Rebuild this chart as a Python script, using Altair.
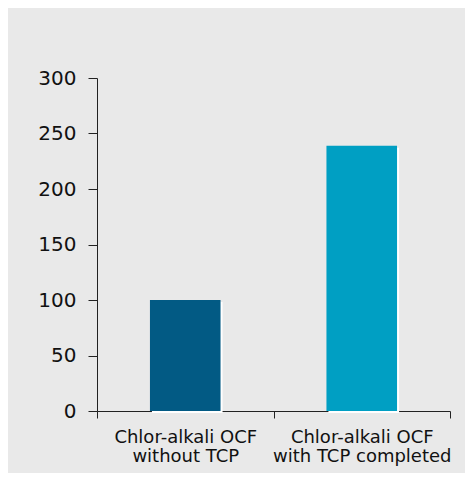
import altair as alt
import pandas as pd

categories = ["Chlor-alkali OCF|without TCP", "Chlor-alkali OCF|with TCP completed"]
values = [100, 239]
colors = ["#025a84", "#009fc3"]
y_ticks = [0, 50, 100, 150, 200, 250, 300]

df = pd.DataFrame({"cat": categories, "value": values, "color": colors})

x_enc = alt.X(
    "cat:N",
    sort=categories,
    title=None,
    scale=alt.Scale(paddingInner=0, paddingOuter=0),
    axis=alt.Axis(
        labelAngle=0,
        labelExpr="split(datum.label, '|')",
        labelLineHeight=19,
        labelFont="DejaVu Sans",
        labelFontSize=18,
        labelColor="#111111",
        labelPadding=10,
        tickBand="extent",
        tickSize=7,
        tickColor="#222222",
        domainColor="#222222",
        labelBound=False,
    ),
)
y_enc = alt.Y(
    "value:Q",
    title=None,
    scale=alt.Scale(domain=[0, 300], nice=False),
    axis=alt.Axis(
        values=y_ticks,
        grid=False,
        tickSize=9,
        tickColor="#222222",
        domainColor="#222222",
        labelFont="DejaVu Sans",
        labelFontSize=20,
        labelColor="#111111",
        labelPadding=12,
    ),
)

shadow = alt.Chart(df).mark_bar(
    color="#ffffff", width=alt.RelativeBandSize(0.4), xOffset=2, yOffset=2
).encode(x=x_enc, y=y_enc)

bars = alt.Chart(df).mark_bar(width=alt.RelativeBandSize(0.4)).encode(
    x=x_enc,
    y=y_enc,
    color=alt.Color("color:N", scale=None),
)

chart = (
    alt.layer(shadow, bars)
    .properties(
        width=353,
        height=333,
        autosize=alt.AutoSizeParams(type="none"),
        padding={"left": 89, "top": 70, "right": 15, "bottom": 62},
        background="#e9e9e9",
    )
    .configure_view(stroke=None)
)

chart.save("out.html", embed_options={"renderer": "svg", "actions": False})
